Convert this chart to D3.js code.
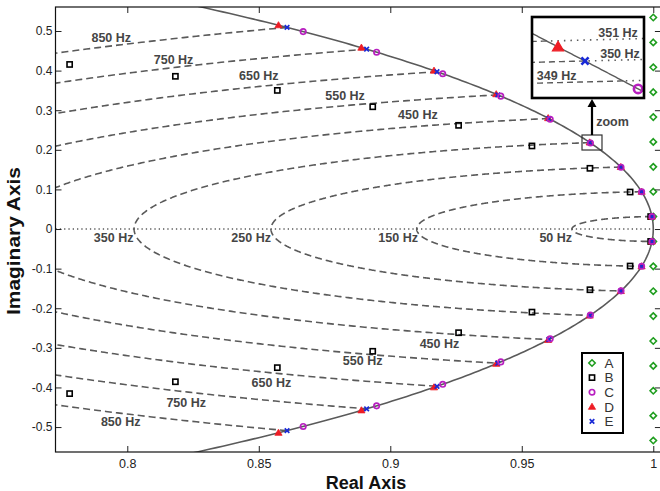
<!DOCTYPE html>
<html><head><meta charset="utf-8">
<script src="https://cdn.jsdelivr.net/npm/d3@7"></script>
<style>
body{margin:0;background:#fff;}
svg{display:block;font-family:"Liberation Sans",Arial,Helvetica,sans-serif;}
</style>
</head><body>
<svg id="chart" width="660" height="491"></svg>
<script>
// ---------------- data ----------------
const sampleRate = 10000;                       // Hz
const contourFreqs = [50,150,250,350,450,550,650,750,850];
const insetFreqs = [349,350,351];
const realTicks = [0.8,0.85,0.9,0.95,1];
const realTickLabels = ["0.8","0.85","0.9","0.95","1"];
const imagTicks = [-0.5,-0.4,-0.3,-0.2,-0.1,0,0.1,0.2,0.3,0.4,0.5];
const imagTickLabels = ["-0.5","-0.4","-0.3","-0.2","-0.1","0","0.1","0.2","0.3","0.4","0.5"];

// marker positions (upper half; lower half are the conjugates)
const markerFreqs = [50,150,250,350,450,550,650,750,850];
const A_re = [1,1,1,1,1,1,1,1,1];
const A_im = [0.031416,0.094248,0.157080,0.219911,0.282743,0.345575,0.408407,0.471239,0.534071];
const B_re = [0.999014,0.991196,0.975920,0.953871,0.925973,0.893319,0.857048,0.818287,0.778070];
const B_im = [0.031385,0.093420,0.153297,0.209769,0.261810,0.308708,0.350026,0.385611,0.415547];
const C_re = [0.999507,0.995568,0.987739,0.976108,0.960811,0.942020,0.919940,0.894807,0.866877];
const C_im = [0.031408,0.094039,0.156117,0.217285,0.277204,0.335558,0.392059,0.446453,0.498522];
const D_re = [0.999506,0.995559,0.987663,0.975820,0.960031,0.940297,0.916624,0.889019,0.857494];
const D_im = [0.031413,0.094143,0.156594,0.218575,0.279895,0.340356,0.399751,0.457871,0.514494];
const E_re = [0.999507,0.995562,0.987688,0.975917,0.960294,0.940881,0.917755,0.891007,0.860742];
const E_im = [0.031411,0.094108,0.156434,0.218143,0.278991,0.338738,0.397148,0.453990,0.509042];

// contour labels
const labelText = ["850 Hz","750 Hz","650 Hz","550 Hz","450 Hz",
                   "350 Hz","250 Hz","150 Hz","50 Hz",
                   "850 Hz","750 Hz","650 Hz","550 Hz","450 Hz"];
const labelRe = [0.7939,0.8176,0.8500,0.8828,0.9105,
                 0.7948,0.8471,0.9030,0.9629,
                 0.7975,0.8224,0.8548,0.8895,0.9187];
const labelIm = [0.4836,0.4293,0.3864,0.3384,0.2904,
                 -0.0215,-0.0215,-0.0215,-0.0215,
                 -0.4866,-0.4386,-0.3871,-0.3316,-0.2886];
// inset
const insetLabelText = ["351 Hz","350 Hz","349 Hz"];
const insetLabelRe = [0.976036,0.976043,0.975815];
const insetLabelIm = [0.219005,0.218389,0.217712];
const insetIndex = 3;     // 350 Hz markers
const zoomRectRe = [0.9729,0.9805];
const zoomRectIm = [0.1995,0.2374];

const legendNames = ["A","B","C","D","E"];

// ---------------- styles ----------------
const col = {A:"#1f9e1f",B:"#000000",C:"#b81fc0",D:"#ee1c24",E:"#1a2ad6",grid:"#5a5a5a"};

const svg = d3.select("#chart");
const x = d3.scaleLinear().domain([0.7727,1.0029]).range([55.5,660.9]);
const y = d3.scaleLinear().domain([-0.5630,0.5606]).range([452,7]);
const X0=x.range()[0], X1=x.range()[1], Y0=y.range()[1], Y1=y.range()[0];

const defs = svg.append("defs");
defs.append("clipPath").attr("id","plotClip").append("rect")
  .attr("x",X0).attr("y",Y0).attr("width",X1-X0).attr("height",Y1-Y0);

const plot = svg.append("g").attr("clip-path","url(#plotClip)");
const line = d3.line().x(d=>x(d[0])).y(d=>y(d[1]));

function contour(f, zmin, zmax, n){
  const w = 2*Math.PI*f/sampleRate;
  const pts=[];
  for(let i=0;i<=n;i++){
    const t = zmin + (zmax-zmin)*i/n;
    const z = Math.sin(t*Math.PI/2);
    const r = Math.exp(-z*w), a = w*Math.sqrt(Math.max(0,1-z*z));
    pts.push([r*Math.cos(a), r*Math.sin(a)]);
  }
  return pts;
}
function fullContour(f){
  const up = contour(f,0,1,400);
  const lo = up.slice().reverse().map(p=>[p[0],-p[1]]);
  return up.concat(lo.slice(1));
}

plot.append("line").attr("x1",X0).attr("x2",x(1)).attr("y1",y(0)).attr("y2",y(0))
  .attr("stroke",col.grid).attr("stroke-width",1.3).attr("stroke-dasharray","1.3,3");

contourFreqs.forEach(f=>{
  plot.append("path").attr("d",line(fullContour(f))).attr("fill","none")
    .attr("stroke",col.grid).attr("stroke-width",1.6).attr("stroke-dasharray","7,4");
});

const circ = d3.range(0,361).map(i=>{const a=(i-180)*Math.PI/720; return [Math.cos(a),Math.sin(a)];});
plot.append("path").attr("d",line(circ)).attr("fill","none")
  .attr("stroke",col.grid).attr("stroke-width",1.6);

function pts(re,im){ const o=[]; re.forEach((r,i)=>{o.push([r,im[i]]);o.push([r,-im[i]]);}); return o; }
function drawMarker(g, type, px, py, s){
  s = s||1;
  if(type==="A"){
    const h=3.2*s;
    g.append("path").attr("d",`M${px},${py-h}L${px+h},${py}L${px},${py+h}L${px-h},${py}Z`)
      .attr("fill","none").attr("stroke",col.A).attr("stroke-width",1.6*s);
  } else if(type==="B"){
    const h=2.6*s;
    g.append("rect").attr("x",px-h).attr("y",py-h).attr("width",2*h).attr("height",2*h)
      .attr("fill","none").attr("stroke",col.B).attr("stroke-width",1.6*s);
  } else if(type==="C"){
    g.append("circle").attr("cx",px).attr("cy",py).attr("r",2.7*s)
      .attr("fill","none").attr("stroke",col.C).attr("stroke-width",1.7*s);
  } else if(type==="D"){
    const w=3.6*s;
    g.append("path").attr("d",`M${px},${py-w}L${px+w},${py+w*0.7}L${px-w},${py+w*0.7}Z`)
      .attr("fill",col.D).attr("stroke",col.D).attr("stroke-width",0.8*s);
  } else if(type==="E"){
    const h=2.3*s;
    g.append("path").attr("d",`M${px-h},${py-h}L${px+h},${py+h}M${px-h},${py+h}L${px+h},${py-h}`)
      .attr("stroke",col.E).attr("stroke-width",1.7*s).attr("fill","none");
  }
}
const mk = svg.append("g");
const series = {A:[A_re,A_im],B:[B_re,B_im],C:[C_re,C_im],D:[D_re,D_im],E:[E_re,E_im]};
["A","B","D","E","C"].forEach(k=>{
  pts(series[k][0],series[k][1]).forEach(p=>drawMarker(mk,k,x(p[0]),y(p[1])));
});

const lab = svg.append("g").attr("font-size","12.5px").attr("font-weight","bold").attr("fill","#454545");
labelText.forEach((t,i)=>{
  lab.append("text").attr("x",x(labelRe[i])).attr("y",y(labelIm[i])).attr("dy","0.36em")
    .attr("text-anchor","middle").text(t);
});

const axG = svg.append("g");
const axB = axG.append("g").attr("transform",`translate(0,${Y1})`)
  .call(d3.axisBottom(x).tickValues(realTicks).tickFormat((d,i)=>realTickLabels[i]).tickSizeInner(-6).tickSizeOuter(0).tickPadding(7));
const axT = axG.append("g").attr("transform",`translate(0,${Y0})`)
  .call(d3.axisTop(x).tickValues(realTicks).tickFormat("").tickSizeInner(-6).tickSizeOuter(0));
const axL = axG.append("g").attr("transform",`translate(${X0},0)`)
  .call(d3.axisLeft(y).tickValues(imagTicks).tickFormat((d,i)=>imagTickLabels[i]).tickSizeInner(-6).tickSizeOuter(0).tickPadding(3));
const axR = axG.append("g").attr("transform",`translate(${X1},0)`)
  .call(d3.axisRight(y).tickValues(imagTicks).tickFormat("").tickSizeInner(-6).tickSizeOuter(0));
axG.selectAll(".domain").remove();
axG.selectAll(".tick line").attr("stroke","#222").attr("stroke-width",1);
axB.selectAll("text").attr("font-size","12.5px").attr("fill","#222").attr("font-family","Liberation Sans, Arial, sans-serif");
axL.selectAll("text").attr("font-size","12px").attr("fill","#222").attr("font-family","Liberation Sans, Arial, sans-serif");
axG.append("rect").attr("x",X0).attr("y",Y0).attr("width",X1-X0).attr("height",Y1-Y0)
  .attr("fill","none").attr("stroke","#111").attr("stroke-width",1.2);

svg.append("text").attr("x",366).attr("y",488.5).attr("text-anchor","middle")
  .attr("font-size","18px").attr("font-weight","bold").attr("fill","#111").text("Real Axis");
svg.append("text").attr("transform","translate(19.5,241) rotate(-90)").attr("text-anchor","middle")
  .attr("font-size","18.5px").attr("font-weight","bold").attr("fill","#111")
  .attr("textLength",148).attr("lengthAdjust","spacingAndGlyphs").text("Imaginary Axis");

const zr = {x0:x(zoomRectRe[0]),x1:x(zoomRectRe[1]),y0:y(zoomRectIm[1]),y1:y(zoomRectIm[0])};
svg.append("rect").attr("x",zr.x0).attr("y",zr.y0).attr("width",zr.x1-zr.x0).attr("height",zr.y1-zr.y0)
  .attr("fill","none").attr("stroke","#333").attr("stroke-width",1.2);

const inset = {x:532,y:17,w:112,h:81};
const xi = d3.scaleLinear().domain([0.9757264,0.9761292]).range([inset.x,inset.x+inset.w]);
const yi = d3.scaleLinear().domain([0.2170045,0.2194968]).range([inset.y+inset.h,inset.y]);
const ax = (zr.x0+zr.x1)/2;
svg.append("line").attr("x1",ax).attr("x2",ax).attr("y1",zr.y0).attr("y2",inset.y+inset.h+7)
  .attr("stroke","#000").attr("stroke-width",2.2);
svg.append("path").attr("d",`M${ax},${inset.y+inset.h+1}L${ax+4.5},${inset.y+inset.h+9}L${ax-4.5},${inset.y+inset.h+9}Z`).attr("fill","#000");
svg.append("text").attr("x",612.5).attr("y",121).attr("dy","0.36em").attr("text-anchor","middle")
  .attr("font-size","12.5px").attr("font-weight","bold").attr("fill","#454545").text("zoom");

defs.append("clipPath").attr("id","insetClip").append("rect")
  .attr("x",inset.x).attr("y",inset.y).attr("width",inset.w).attr("height",inset.h);
svg.append("rect").attr("x",inset.x).attr("y",inset.y).attr("width",inset.w).attr("height",inset.h).attr("fill","#fff");
const ig = svg.append("g").attr("clip-path","url(#insetClip)");
const iline = d3.line().x(d=>xi(d[0])).y(d=>yi(d[1]));
function insetContour(f, zmin, zmax){
  const w = 2*Math.PI*f/sampleRate, o=[];
  for(let i=0;i<=60;i++){const z=zmin+(zmax-zmin)*i/60; const r=Math.exp(-z*w), a=w*Math.sqrt(1-z*z); o.push([r*Math.cos(a),r*Math.sin(a)]);}
  return o;
}
insetFreqs.forEach(f=>{
  ig.append("path").attr("d",iline(insetContour(f,0,0.004))).attr("fill","none")
    .attr("stroke",col.grid).attr("stroke-width",1.4).attr("stroke-dasharray","6,4");
  ig.append("path").attr("d",iline(insetContour(f,-0.004,0))).attr("fill","none")
    .attr("stroke",col.grid).attr("stroke-width",1.6).attr("stroke-dasharray","1.5,5");
});
const icirc = d3.range(0,201).map(i=>{const a=0.2170+0.0050*i/200; return [Math.cos(a),Math.sin(a)];});
ig.append("path").attr("d",iline(icirc)).attr("fill","none").attr("stroke",col.grid).attr("stroke-width",1.4);
["D","E","C"].forEach(k=>{
  drawMarker(ig,k,xi(series[k][0][insetIndex]),yi(series[k][1][insetIndex]),1.55);
});
const il = svg.append("g").attr("font-size","12.5px").attr("font-weight","bold").attr("fill","#454545");
insetLabelText.forEach((t,i)=>{
  il.append("text").attr("x",xi(insetLabelRe[i])).attr("y",yi(insetLabelIm[i])).attr("dy","0.36em")
    .attr("text-anchor","middle").text(t);
});
svg.append("rect").attr("x",inset.x).attr("y",inset.y).attr("width",inset.w).attr("height",inset.h)
  .attr("fill","none").attr("stroke","#000").attr("stroke-width",2.6);

const lg = svg.append("g").attr("transform","translate(582,353)");
lg.append("rect").attr("width",41).attr("height",80).attr("fill","#fff").attr("stroke","#000").attr("stroke-width",2);
legendNames.forEach((k,i)=>{
  const yy = 10 + i*14.6;
  drawMarker(lg,k,10,yy);
  lg.append("text").attr("x",27).attr("y",yy).attr("dy","0.36em").attr("text-anchor","middle")
    .attr("font-size","13.5px").attr("fill","#333").text(k);
});
</script>
</body></html>
